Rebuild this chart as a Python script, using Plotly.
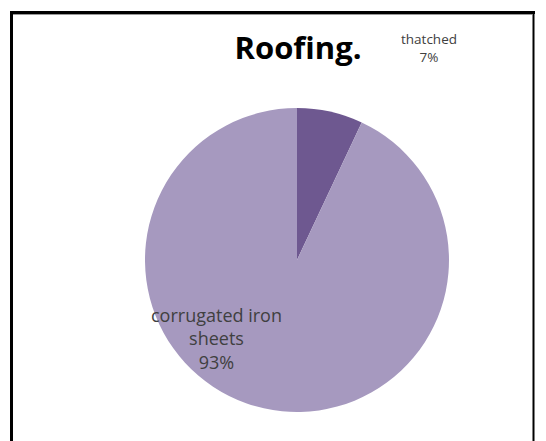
import plotly.graph_objects as go

# Roofing material shares (%)
labels = ["thatched", "corrugated iron sheets"]
values = [7, 93]
colors = ["#6E5890", "#A699BF"]

W, H = 546, 441

fig = go.Figure()
fig.add_trace(go.Pie(
    labels=labels,
    values=values,
    sort=False,
    direction="clockwise",
    rotation=0,
    marker=dict(colors=colors, line=dict(width=0)),
    textinfo="none",
    hoverinfo="label+percent",
    showlegend=False,
    domain=dict(x=[145 / W, 449 / W], y=[1 - 412 / H, 1 - 108 / H]),
))

# Data labels built from the values
label_text = {
    "thatched": f"thatched<br>{values[0]}%",
    "corrugated iron sheets": f"corrugated iron<br>sheets<br>{values[1]}%",
}
fig.add_annotation(x=429 / W, y=1 - 48 / H, xref="paper", yref="paper",
                   text=label_text["thatched"], showarrow=False,
                   font=dict(family="Open Sans", size=13.5, color="#404040"),
                   align="center", xanchor="center", yanchor="middle")
fig.add_annotation(x=216 / W, y=1 - 338 / H, xref="paper", yref="paper",
                   text=label_text["corrugated iron sheets"], showarrow=False,
                   font=dict(family="Open Sans", size=18, color="#404040"),
                   align="center", xanchor="center", yanchor="middle")

# Outer frame
fig.add_shape(type="line", xref="paper", yref="paper",
              x0=10 / W, x1=535 / W, y0=1 - 12.5 / H, y1=1 - 12.5 / H,
              line=dict(color="black", width=3))
fig.add_shape(type="line", xref="paper", yref="paper",
              x0=13 / W, x1=532 / W, y0=1 - 14.5 / H, y1=1 - 14.5 / H,
              line=dict(color="#999999", width=1))
fig.add_shape(type="line", xref="paper", yref="paper",
              x0=11.5 / W, x1=11.5 / W, y0=0, y1=1 - 11 / H,
              line=dict(color="black", width=3))
fig.add_shape(type="line", xref="paper", yref="paper",
              x0=533.5 / W, x1=533.5 / W, y0=0, y1=1 - 11 / H,
              line=dict(color="black", width=2))

fig.update_layout(
    width=W, height=H,
    margin=dict(l=0, r=0, t=0, b=0),
    paper_bgcolor="white",
    plot_bgcolor="white",
    title=dict(text="<b>Roofing.</b>", x=298 / W, y=1 - 48 / H,
               xanchor="center", yanchor="middle",
               font=dict(family="Open Sans", size=31, color="black")),
)

fig.write_html("out.html")
